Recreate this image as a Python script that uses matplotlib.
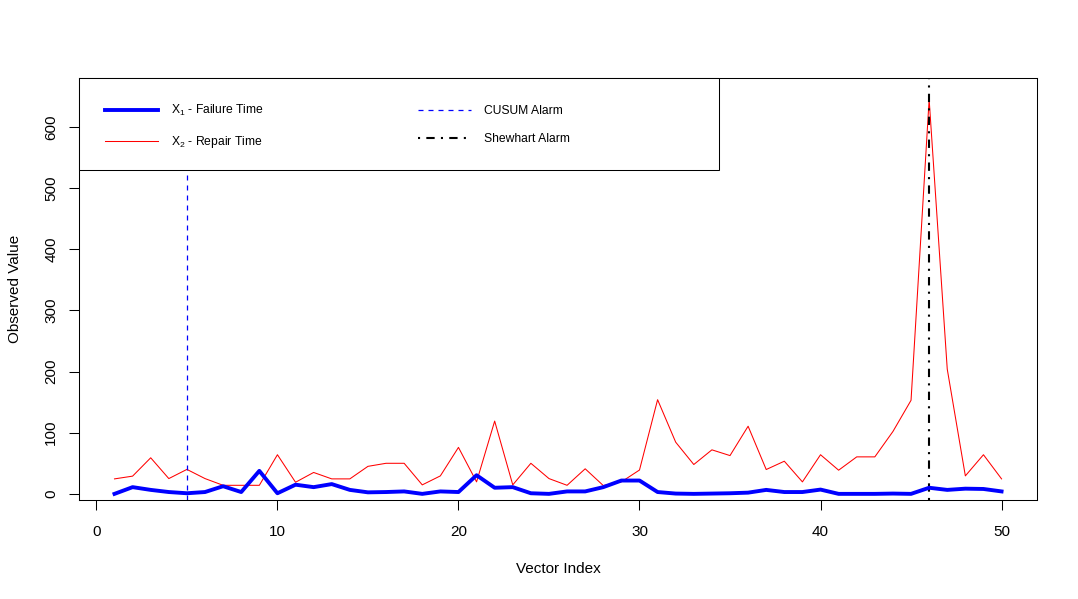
import matplotlib
matplotlib.use("Agg")
import matplotlib.pyplot as plt
from matplotlib.patches import Rectangle
import numpy as np

plt.rcParams['font.family'] = ['Liberation Sans', 'DejaVu Sans']
plt.rcParams['mathtext.fontset'] = 'custom'
plt.rcParams['mathtext.rm'] = 'Liberation Sans'

# Datos
idx = np.arange(1, 51)
x1_failure = [0, 11, 6.5, 3, 1, 3, 12.5, 3, 37.6, 1,
              15, 11, 16, 6.5, 2.5, 3, 4, 0, 4, 3,
              30.5, 10, 11, 1, 0, 4, 4, 11, 21.8, 21.8,
              3, 0.5, 0, 0.5, 1, 2, 6.5, 3, 3, 7,
              0, 0, 0, 0.5, 0, 10, 6.5, 8.5, 8, 4]
x2_repair = [24.5, 29, 59, 25, 40, 25, 14, 14, 14, 64,
             19, 35, 24.5, 24.5, 45, 50, 50, 14.7, 29.4, 76,
             19.6, 119, 14.7, 50, 25, 14, 41, 13.6, 19.6, 39,
             154, 84.5, 48, 72, 62.6, 110.6, 39.8, 53.4, 19.6, 64,
             38.7, 60.5, 60.5, 102, 153, 645, 204, 29.4, 64, 24.5]
cusum_alarm = 5
shewhart_alarm = 46

xticks = [0, 10, 20, 30, 40, 50]
yticks = [0, 100, 200, 300, 400, 500, 600]

fig = plt.figure(figsize=(10.78, 5.99), dpi=100)
ax = fig.add_axes([0.0733, 0.1653, 0.8887, 0.7045])

ax.plot(idx, x1_failure, color='blue', lw=2.8, label=r'X$_1$ - Failure Time', zorder=3)
ax.plot(idx, x2_repair, color='red', lw=0.75, label=r'X$_2$ - Repair Time', zorder=2)
ax.axvline(cusum_alarm, color='#0000ff', lw=0.9, dashes=(4, 4), label='CUSUM Alarm')
ax.axvline(shewhart_alarm, color='black', lw=1.5, dashes=(1, 3, 4, 3), label='Shewhart Alarm')

ax.set_xlim(-0.96, 51.96)
ax.set_ylim(-10, 680)
ax.set_xticks(xticks)
ax.set_yticks(yticks)
ax.set_yticklabels([str(v) for v in yticks], rotation=90, va='center')
ax.tick_params(direction='out', length=7, width=0.75, labelsize=11)
ax.tick_params(axis='x', pad=10.8)
ax.tick_params(axis='y', pad=8)
for s in ax.spines.values():
    s.set_linewidth(0.75)

ax.set_xlabel('Vector Index', fontsize=11, labelpad=16.5)
ax.set_ylabel('Observed Value', fontsize=11, labelpad=16)

# Caja de la leyenda (estilo R)
ax.add_patch(Rectangle((0, 0.782), 0.668, 0.218, transform=ax.transAxes,
                       facecolor='white', edgecolor='black', lw=0.75, zorder=4,
                       clip_on=False))
leg = ax.legend(ncol=2, loc='upper left', bbox_to_anchor=(0.0271, 0.9408),
                borderaxespad=0, borderpad=0, frameon=False,
                fontsize=8.7, handlelength=4.39, handletextpad=1.08,
                labelspacing=1.32, columnspacing=12.75)
leg.set_zorder(5)

fig.savefig('out.png', dpi=100)
